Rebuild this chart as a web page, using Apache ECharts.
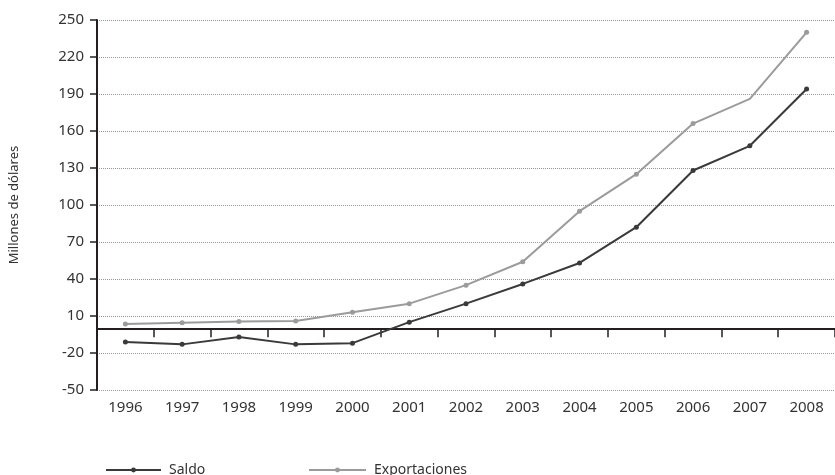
<!DOCTYPE html>
<html>
<head>
<meta charset="utf-8">
<script src="https://cdn.jsdelivr.net/npm/echarts@6/dist/echarts.min.js"></script>
<style>
  html, body { margin: 0; padding: 0; background: #fff; }
  #chart { width: 835px; height: 475px; }
</style>
</head>
<body>
<div id="chart"></div>
<script>
// Años del periodo
const years = ['1996', '1997', '1998', '1999', '2000', '2001', '2002',
               '2003', '2004', '2005', '2006', '2007', '2008'];

// Saldo comercial (millones de dólares)
const saldo = [-11, -13, -7, -13, -12, 5, 20, 36, 53, 82, 128, 148, 194];

// Exportaciones (millones de dólares)
const exportaciones = [3.5, 4.5, 5.5, 6, 13, 20, 35, 54, 95, 125, 166, 186, 240];

// Límites y paso del eje vertical
const yMin = -50;
const yMax = 250;
const yStep = 30;

const FONT = 'Noto Sans';
const INK = '#231f20';

const chart = echarts.init(document.getElementById('chart'), null, { renderer: 'canvas' });

// El punto de 2007 de exportaciones se dibuja sin marcador
const exportPoints = exportaciones.map((v, i) =>
  i === 11 ? { value: v, symbol: 'none' } : v);

chart.setOption({
  animation: false,
  backgroundColor: '#fff',
  grid: { left: 95, top: 20, right: -4, bottom: 85, containLabel: false },
  legend: [
    {
      data: ['Saldo'], left: 100, top: 458,
      itemWidth: 55, itemHeight: 6,
      textStyle: { fontFamily: FONT, fontSize: 14, color: '#333', padding: [0, 0, 0, 3] }
    },
    {
      data: ['Exportaciones'], left: 303, top: 458,
      itemWidth: 57, itemHeight: 6,
      textStyle: { fontFamily: FONT, fontSize: 14, color: '#333', padding: [0, 0, 0, 3] }
    }
  ],
  xAxis: [
    {
      // etiquetas de los años al pie del gráfico
      type: 'category', data: years, boundaryGap: true,
      position: 'bottom',
      axisLine: { show: false, onZero: false },
      axisTick: { show: false },
      axisLabel: { fontFamily: FONT, fontSize: 15, color: '#333', margin: 10 },
      splitLine: { show: false }
    },
    {
      // línea del cero con marcas entre años
      type: 'category', data: years, boundaryGap: true,
      position: 'bottom',
      axisLine: { show: true, onZero: true, lineStyle: { color: INK, width: 2 } },
      axisTick: { show: true, length: 9, lineStyle: { color: INK, width: 1.5 } },
      axisLabel: { show: false },
      splitLine: { show: false }
    }
  ],
  yAxis: {
    type: 'value', min: yMin, max: yMax, interval: yStep,
    name: 'Millones de dólares', nameLocation: 'middle', nameGap: 76,
    nameTextStyle: { fontFamily: FONT, fontSize: 13, color: '#333' },
    axisLine: { show: true, lineStyle: { color: INK, width: 2 } },
    axisTick: { show: true, length: 7, lineStyle: { color: INK, width: 1.5 } },
    axisLabel: { fontFamily: FONT, fontSize: 15, color: '#333', margin: 13 },
    splitLine: { show: true, lineStyle: { color: '#999', type: 'dotted', width: 1 } }
  },
  series: [
    {
      name: 'Saldo', type: 'line', data: saldo,
      symbol: 'circle', symbolSize: 5,
      lineStyle: { color: '#3a3a3a', width: 2 },
      itemStyle: { color: '#3a3a3a' },
      z: 3
    },
    {
      name: 'Exportaciones', type: 'line', data: exportPoints,
      symbol: 'circle', symbolSize: 5,
      lineStyle: { color: '#9b9b9b', width: 2 },
      itemStyle: { color: '#9b9b9b' },
      z: 2
    }
  ]
});
</script>
</body>
</html>
